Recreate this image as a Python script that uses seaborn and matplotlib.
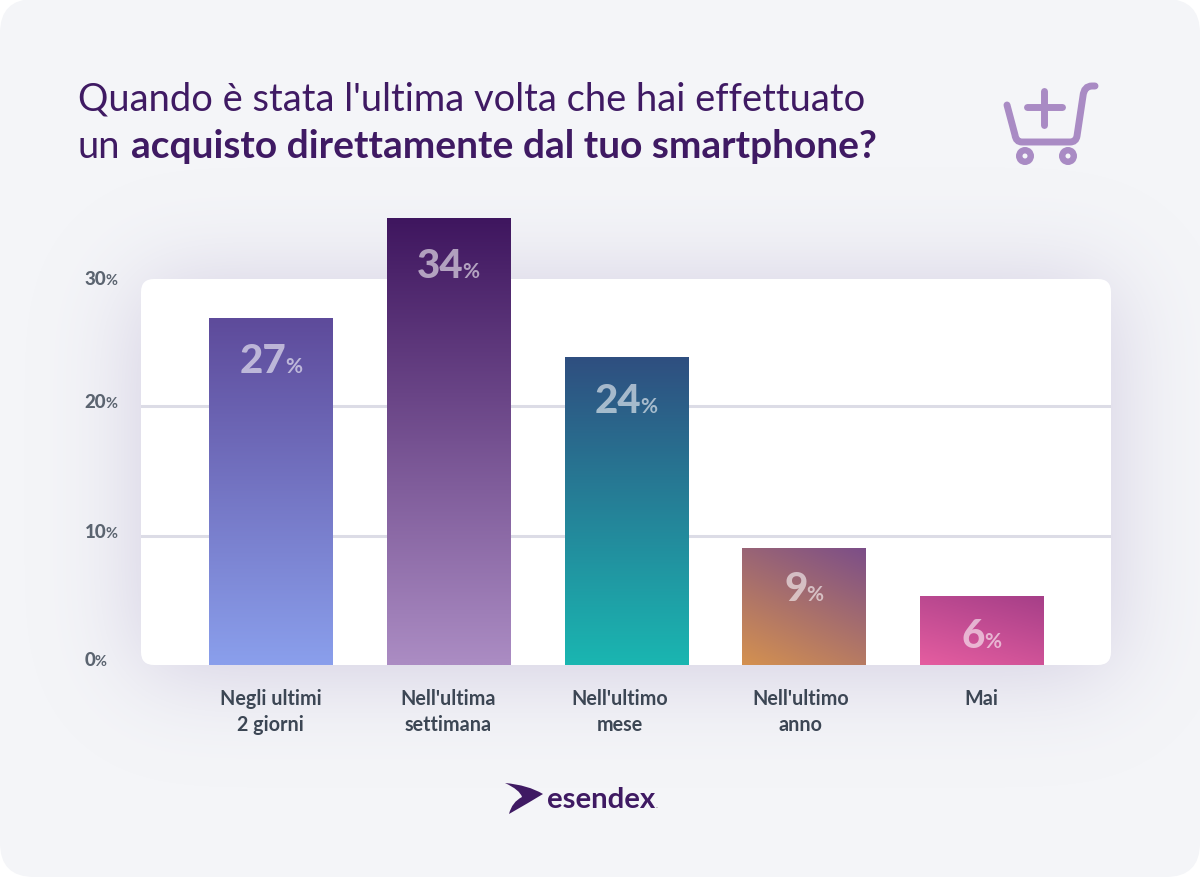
#!/usr/bin/env python3
import math
import numpy as np
import pandas as pd
import matplotlib
matplotlib.use("Agg")
import matplotlib.pyplot as plt
from matplotlib.colors import LinearSegmentedColormap, to_rgb
from matplotlib.patches import FancyBboxPatch, Circle, PathPatch
from matplotlib.path import Path
from matplotlib.transforms import ScaledTranslation
import seaborn as sns

# Values
categories = ["Negli ultimi\n2 giorni", "Nell'ultima\nsettimana", "Nell'ultimo\nmese", "Nell'ultimo\nanno", "Mai"]
bar_heights = [26.8, 34.5, 23.8, 9.0, 5.3]
value_labels = ["27", "34", "24", "9", "6"]
tick_values = [0, 10, 20, 30]

# top colour, bottom colour, slant of the gradient
bar_top = ["#5e4b9b", "#3f165f", "#2f4f80", "#7c4e88", "#a63f88"]
bar_bottom = ["#8a9fec", "#ab8cc3", "#1ab6b1", "#d49150", "#e55da0"]
bar_slant = [0.0, 0.0, 0.0, 0.5, 0.5]

PURPLE = "#3f1a63"
ICON = "#a98bc4"

sns.set_theme(style="white")
plt.rcParams["font.family"] = ["Lato", "DejaVu Sans"]

fig = plt.figure(figsize=(12, 8.78), dpi=100, facecolor="white")

# Page layer in pixel coordinates
bg = fig.add_axes([0, 0, 1, 1], zorder=0)
bg.set_xlim(0, 1200)
bg.set_ylim(878, 0)
bg.axis("off")

card = FancyBboxPatch((0, 0), 1200, 878, boxstyle="round,pad=0,rounding_size=34",
                      fc="#f4f5f8", ec="none", mutation_aspect=1)
bg.add_patch(card)

# Soft shadow around the white panel
erf = np.vectorize(math.erf)
xs = np.arange(1200) + 0.5
ys = np.arange(878) + 0.5
sx, sy = 46.0, 46.0
ax_prof = 0.5 * (erf((xs - 141) / (sx * 2**0.5)) - erf((xs - 1111) / (sx * 2**0.5)))
ay_prof = 0.5 * (erf((ys - 285) / (sy * 2**0.5)) - erf((ys - 672) / (sy * 2**0.5)))
alpha = np.outer(ay_prof, ax_prof) * 0.7
rgba = np.zeros((878, 1200, 4))
rgba[..., :3] = to_rgb("#c4bcd8")
rgba[..., 3] = alpha
shadow = bg.imshow(rgba, extent=(0, 1200, 878, 0), aspect="auto", zorder=1)
shadow.set_clip_path(card)
bg.set_xlim(0, 1200)
bg.set_ylim(878, 0)

panel = FancyBboxPatch((141, 280), 970, 386, boxstyle="round,pad=0,rounding_size=13",
                       fc="white", ec="none", zorder=2)
bg.add_patch(panel)

# Title, the bold part goes right behind the regular part
bg.text(78, 110, "Quando è stata l'ultima volta che hai effettuato", fontsize=27.45,
        color=PURPLE, va="baseline", zorder=3)
bg.text(78, 158, "un", fontsize=27.45, color=PURPLE, va="baseline", zorder=3)
fig.canvas.draw()
renderer = fig.canvas.get_renderer()
bg.text(131, 158, "acquisto direttamente dal tuo smartphone?", fontsize=28, fontweight="bold",
        color=PURPLE, va="baseline", zorder=3)

# Cart icon
lw = 5.0
cart = Path([(1007, 106), (1015, 136), (1016, 143), (1022, 143), (1070, 143), (1076, 143), (1077, 137),
             (1083, 97), (1084, 87), (1092, 87), (1095, 87)],
            [Path.MOVETO, Path.LINETO, Path.CURVE3, Path.CURVE3, Path.LINETO, Path.CURVE3, Path.CURVE3,
             Path.LINETO, Path.CURVE3, Path.CURVE3, Path.LINETO])
bg.add_patch(PathPatch(cart, fc="none", ec=ICON, lw=lw, capstyle="round", zorder=3))
bg.plot([1027, 1062], [108, 108], color=ICON, lw=lw, solid_capstyle="round", zorder=3)
bg.plot([1044, 1044], [92, 126], color=ICON, lw=lw, solid_capstyle="round", zorder=3)
for cx in [1025, 1068]:
    bg.add_patch(Circle((cx, 157), 9, fc=ICON, ec="none", zorder=3))
    bg.add_patch(Circle((cx, 157), 2.5, fc="#f4f5f8", ec="none", zorder=4))

# Logo
mark = Path([(505, 784), (528, 786), (543, 795), (530, 803), (509, 815), (512, 803), (522, 798), (520, 791), (505, 784)],
            [Path.MOVETO, Path.CURVE3, Path.CURVE3, Path.CURVE3, Path.CURVE3, Path.CURVE3, Path.CURVE3, Path.CURVE3, Path.CURVE3])
bg.add_patch(PathPatch(mark, fc=PURPLE, ec="none", zorder=3))
bg.text(547, 808, "esendex", fontsize=21.2, fontweight="bold", color=PURPLE, va="baseline", zorder=3)
bg.text(656, 808, ".", fontsize=6, color="#777777", va="baseline", zorder=3)

# Chart layer: y runs 12.93 px per percent, baseline at 666 px
top_px, base_px = 200, 666
ax = fig.add_axes([141 / 1200, 1 - base_px / 878, 970 / 1200, (base_px - top_px) / 878], zorder=1)
ax.patch.set_alpha(0)
df = pd.DataFrame({"when": categories, "share": bar_heights})
sns.barplot(data=df, x="when", y="share", width=0.693, ax=ax, color="#888888")
ax.set_xlim(-0.7293, 4.7277)
ax.set_ylim(0, (base_px - top_px) / 12.93)
ax.set_xlabel("")
ax.set_ylabel("")
sns.despine(ax=ax, left=True, bottom=True)

ax.set_yticks(tick_values)
ax.set_yticklabels([])
ax.tick_params(axis="both", length=0)
ax.set_axisbelow(True)
ax.yaxis.grid(True, color="#dcdce6", lw=2.2)
for i in [0, 3]:
    ax.get_ygridlines()[i].set_visible(False)
ax.tick_params(axis="x", pad=16.3)
ax.set_xticks(range(len(categories)))
ax.set_xticklabels(categories, fontsize=14.2, fontweight="bold", color="#3c4654", linespacing=1.38)
# the labels are not quite centred under the bars in the original
for label, dx in zip(ax.get_xticklabels(), [0, 0, -6, -3, 0]):
    label.set_transform(label.get_transform() + ScaledTranslation(dx / 100, 0, fig.dpi_scale_trans))

# Gradient fill on each bar
xlim, ylim = ax.get_xlim(), ax.get_ylim()
v, u = np.mgrid[0:1:128j, 0:1:128j]
for bar, c_top, c_bot, slant in zip(ax.patches, bar_top, bar_bottom, bar_slant):
    cmap = LinearSegmentedColormap.from_list("bar", [c_top, c_bot])
    grad = (v + slant * (1 - u)) / (1 + slant)
    ax.imshow(grad, cmap=cmap, vmin=0, vmax=1, aspect="auto", interpolation="bilinear", origin="upper",
              extent=(bar.get_x(), bar.get_x() + bar.get_width(), 0, bar.get_height()), zorder=2)
    bar.set_visible(False)
ax.set_xlim(xlim)
ax.set_ylim(ylim)


def pct_label(target, xy, offset, number, size, small, color, alpha=1.0, center=True):
    """Number with a smaller % behind it, xy in data coords, offset in pixels."""
    a = target.annotate(number, xy=xy, xytext=offset, textcoords="offset pixels", fontsize=size,
                        fontweight="black", color=color, alpha=alpha, va="baseline", ha="left", zorder=5,
                        annotation_clip=False)
    b = target.annotate("%", xy=xy, xytext=offset, textcoords="offset pixels", fontsize=small,
                        fontweight="bold", color=color, alpha=alpha, va="baseline", ha="left", zorder=5,
                        annotation_clip=False)
    w1 = a.get_window_extent(renderer).width
    w2 = b.get_window_extent(renderer).width
    left = offset[0] - (w1 + w2 - 1) / 2 if center else offset[0]
    a.set_position((left, offset[1]))
    b.set_position((left + w1 - 1, offset[1]))


fig.canvas.draw()
for bar, lab, drop in zip(ax.patches, value_labels, [54, 58, 55, 51, 51]):
    cx = bar.get_x() + bar.get_width() / 2
    pct_label(ax, (cx, bar.get_height()), (0, -drop), lab, 29, 15, "white", alpha=0.58)

# Y labels sit a little above their lines, more so near the bottom
for val, shift in zip(tick_values, [0, -1, -1, -7]):
    pct_label(ax, (-0.731, val), (-141 + 85, shift), str(val), 13.5, 10.5, "#5b6470", center=False)

fig.savefig("out.png", dpi=100)
